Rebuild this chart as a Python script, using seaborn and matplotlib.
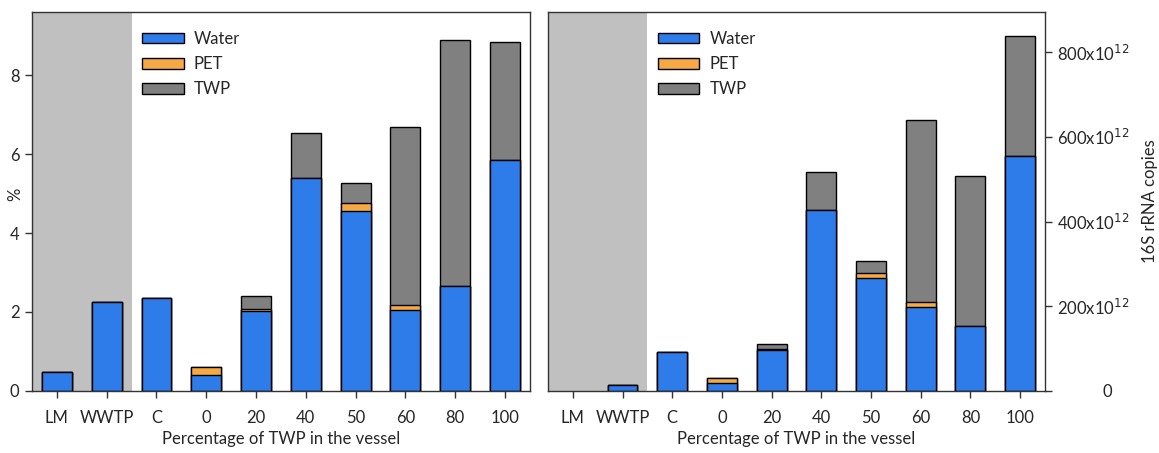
import pandas as pd
import matplotlib
matplotlib.use("Agg")
import matplotlib.pyplot as plt
from matplotlib.patches import Patch
from matplotlib.transforms import ScaledTranslation
import seaborn as sns

# categories on the x axis
groups = ["LM", "WWTP", "C", "0", "20", "40", "50", "60", "80", "100"]

# left panel: % of each fraction
pct_water = [0.48, 2.26, 2.36, 0.40, 2.02, 5.39, 4.57, 2.05, 2.67, 5.84]
pct_pet = [0.0, 0.0, 0.0, 0.21, 0.06, 0.0, 0.19, 0.13, 0.0, 0.0]
pct_twp = [0.0, 0.0, 0.0, 0.0, 0.32, 1.14, 0.50, 4.51, 6.21, 3.01]

# right panel: 16S rRNA copies (x10^12)
cop_water = [0.0, 13, 92.5, 19.6, 95.7, 427, 267, 198, 153, 555]
cop_pet = [0.0, 0.0, 0.0, 10.2, 3.9, 0.0, 11, 12, 0.0, 0.0]
cop_twp = [0.0, 0.0, 0.0, 0.0, 12.4, 90, 29, 431, 354, 283]

series = ["Water", "PET", "TWP"]
colors = {"Water": "#2e7bea", "PET": "#f5a945", "TWP": "#808080"}
shade = "#c0c0c0"
FS = 12

sns.set_theme(style="white")
plt.rcParams["font.family"] = ["Lato", "DejaVu Sans"]


def stack_frame(water, pet, twp):
    df = pd.DataFrame({"group": groups, "Water": water, "PET": pet, "TWP": twp})
    df["Water_top"] = df["Water"]
    df["PET_top"] = df["Water"] + df["PET"]
    df["TWP_top"] = df["PET_top"] + df["TWP"]
    return df


def draw_panel(ax, df, ymax):
    ax.axvspan(-0.5, 1.5, color=shade, lw=0, zorder=0)
    for s in ["TWP", "PET", "Water"]:
        sns.barplot(data=df, x="group", y=s + "_top", order=groups, color=colors[s],
                    saturation=1, width=0.6, edgecolor="black", linewidth=1.0,
                    ax=ax, zorder=2)
    # hide zero-height bars
    for p in ax.patches:
        if p.get_height() <= 0:
            p.set_visible(False)
    ax.set_xlim(-0.5, 9.5)
    ax.set_ylim(0, ymax)
    ax.set_xlabel("Percentage of TWP in the vessel", fontsize=FS, labelpad=3)
    for sp in ax.spines.values():
        sp.set_color("#333333")
        sp.set_linewidth(1.0)
    ax.tick_params(axis="x", length=5, width=1, color="#333333", labelsize=FS, pad=9,
                   bottom=True)
    handles = [Patch(facecolor=colors[s], edgecolor="black", label=s) for s in series]
    ax.legend(handles=handles, loc="upper left", bbox_to_anchor=(0.221, 0.95),
              frameon=False, fontsize=FS, handlelength=2.5, handleheight=0.6,
              handletextpad=0.6, labelspacing=0.55, borderaxespad=0, borderpad=0)


fig = plt.figure(figsize=(11.59, 4.53), dpi=100)
ax1 = fig.add_axes([0.0276, 0.137, 0.4296, 0.8365])
ax2 = fig.add_axes([0.4728, 0.137, 0.4288, 0.8365])

draw_panel(ax1, stack_frame(pct_water, pct_pet, pct_twp), 9.6)
ax1.set_yticks([0, 2, 4, 6, 8])
ax1.set_ylabel("%", fontsize=FS)
ax1.yaxis.set_label_coords(-0.018, 0.52)
ax1.tick_params(axis="y", length=5, width=1, color="#333333", labelsize=FS, left=True,
                pad=4)

draw_panel(ax2, stack_frame(cop_water, cop_pet, cop_twp), 895)
ax2.set_yticks([0, 200, 400, 600, 800])
ax2.set_yticklabels(["0", r"200x10$^{12}$", r"400x10$^{12}$", r"600x10$^{12}$", r"800x10$^{12}$"])
ax2.yaxis.tick_right()
ax2.yaxis.set_label_position("right")
ax2.tick_params(axis="y", length=5, width=1, color="#333333", labelsize=FS, right=True,
                left=False, pad=4)
# the lone "0" sits further right in the original
zero_lbl = ax2.yaxis.get_major_ticks()[0].label2
zero_lbl.set_transform(zero_lbl.get_transform() + ScaledTranslation(0.45, 0, fig.dpi_scale_trans))
ax2.set_ylabel("16S rRNA copies", fontsize=FS)
ax2.yaxis.set_label_coords(1.195, 0.5)

fig.savefig("out.png", dpi=100)
